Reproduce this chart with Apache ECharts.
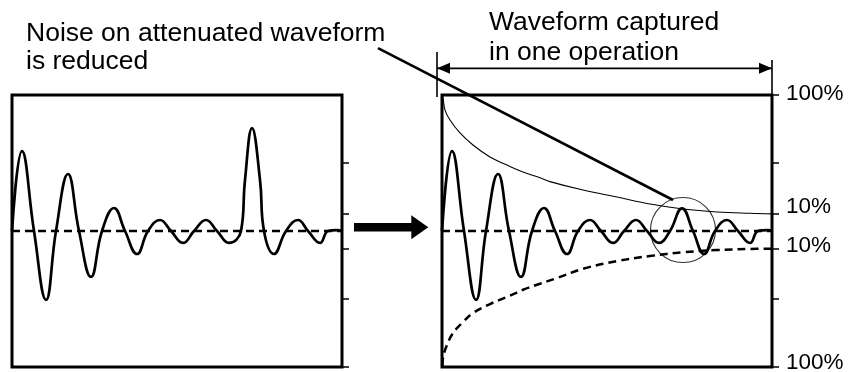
<!DOCTYPE html>
<html><head><meta charset="utf-8">
<script src="https://cdn.jsdelivr.net/npm/echarts@6/dist/echarts.min.js"></script>
<style>html,body{margin:0;padding:0;background:#fff}#c{width:853px;height:372px}</style>
</head><body><div id="c"></div>
<script>
const FONT = "'Liberation Sans', Arial, Helvetica, sans-serif";
const titleLeft = 'Noise on attenuated waveform\nis reduced';
const titleRight = 'Waveform captured\nin one operation';
const rightTickValues = [-100, -50, -13, 13, 50, 100];
const leftTickValues = [-100, -50, -13, 13, 50];
const labelValues = [-100, -13, 13, 100];
const labelTexts = { '100': '100%', '13': '10%', '-13': '10%', '-100': '100%' };
const baseline = [[0, 0], [330, 0]];
const waveLeft = [
  [0, 0], [10, 58.8], [22, 0], [34, -50.7], [44, 0], [56, 41.9], [67, 0], [79, -33.8],
  [90, 0], [102, 16.9], [113, 0], [125, -16.9], [136, 0], [148, 8.1], [159, 0], [171, -8.8],
  [182, 0], [194, 8.1], [205, 0], [217, -8.8], [229, 0], [233, 37.5], [240, 75.7], [248, 37.5],
  [252, 0], [262, -16.9], [274, 0], [286, 8.1], [296, 0], [308, -8.8], [316, 0], [325, 0.7], [330, 0]
];
const waveRight = [
  [0, 0], [10, 58.8], [22, 0], [34, -50.7], [44, 0], [56, 41.9], [67, 0], [79, -33.8],
  [90, 0], [102, 16.9], [113, 0], [125, -16.9], [136, 0], [148, 8.1], [159, 0], [171, -8.8],
  [182, 0], [194, 8.1], [205, 0], [217, -8.8], [228, 0], [240, 16.7], [251, 0], [262, -16.9],
  [273, 0], [285, 8.1], [296, 0], [308, -8.8], [316, 0], [326, 0.7], [330, 0]
];
const envelopeUpper = [
  [0, 100], [1, 97.8], [3, 88.9], [8, 81.6], [18, 72.1], [31, 63.2], [48, 54.4], [65, 48.5],
  [81, 43.4], [98, 39.2], [108, 36.3], [141, 30.1], [175, 25], [208, 19.8], [241, 16.2],
  [275, 14], [308, 13], [330, 12.6]
];
const envelopeLower = [
  [0.5, -99], [1, -93.4], [5, -83.8], [11, -75], [21, -66.9], [31, -60.3], [48, -53.7],
  [65, -48.5], [81, -43.2], [98, -38.8], [115, -34.6], [141, -27.8], [175, -22.1],
  [208, -18.4], [241, -15.7], [275, -14], [308, -13.2], [330, -13]
];
const circleMark = [[241, 0.7]];
// annotation segments: [x1, y1, x2, y2] in each panel's data units
const pointerLine = [[-64, 134.5, 231, 22.8]];
const spanSegments = [[-5, 119.6, 330, 119.6], [-5, 131.6, -5, 98.5], [330, 125.7, 330, 100]];
// arrow heads: [tipX, tipY, direction]
const spanHeads = [[-5, 119.6, -1], [330, 119.6, 1]];
const bigArrowShaft = [[342, 2.8, 410, 2.8]];
const bigArrowHead = [[416.3, 2.8, 1]];

const chart = echarts.init(document.getElementById('c'), null, { renderer: 'canvas' });
const black = '#000';
function lineS(data, grid, style, extra) {
  return Object.assign({
    type: 'line', xAxisIndex: grid, yAxisIndex: grid, data: data, symbol: 'none',
    showSymbol: false, silent: true, animation: false, clip: false,
    lineStyle: Object.assign({ color: black }, style)
  }, extra || {});
}
function segS(data, grid, width, z) {
  return {
    type: 'custom', coordinateSystem: 'cartesian2d', xAxisIndex: grid, yAxisIndex: grid,
    silent: true, animation: false, clip: false, z: z, data: data,
    renderItem: function (params, api) {
      const a = api.coord([api.value(0), api.value(1)]);
      const b = api.coord([api.value(2), api.value(3)]);
      return { type: 'line', shape: { x1: a[0], y1: a[1], x2: b[0], y2: b[1] },
        style: { stroke: black, lineWidth: width, lineCap: 'butt' } };
    }
  };
}
function headS(data, grid, len, halfW, z) {
  return {
    type: 'custom', coordinateSystem: 'cartesian2d', xAxisIndex: grid, yAxisIndex: grid,
    silent: true, animation: false, clip: false, z: z, data: data,
    renderItem: function (params, api) {
      const t = api.coord([api.value(0), api.value(1)]);
      const d = api.value(2);
      return { type: 'polygon', shape: { points: [[t[0], t[1]], [t[0] - d * len, t[1] - halfW], [t[0] - d * len, t[1] + halfW]] },
        style: { fill: black } };
    }
  };
}
const yBase = {
  type: 'value', min: -100, max: 100, position: 'right',
  axisLine: { show: false, onZero: false }, splitLine: { show: false }
};
const labelStyle = { fontSize: 22.5, fontFamily: FONT, color: black };
const gridBase = { top: 95, width: 330, height: 272, show: true, borderColor: black, borderWidth: 3,
  backgroundColor: 'transparent', containLabel: false, outerBoundsMode: 'none' };
const option = {
  animation: false,
  backgroundColor: '#fff',
  title: [
    { text: titleLeft, left: 26, top: 19.3, padding: 0,
      textStyle: { fontSize: 26.5, fontWeight: 'normal', fontFamily: FONT, color: black, lineHeight: 28 } },
    { text: titleRight, left: 489, top: 7.7, padding: 0,
      textStyle: { fontSize: 26.5, fontWeight: 'normal', fontFamily: FONT, color: black, lineHeight: 30 } }
  ],
  grid: [
    Object.assign({ left: 12 }, gridBase),
    Object.assign({ left: 442 }, gridBase)
  ],
  xAxis: [
    { gridIndex: 0, type: 'value', min: 0, max: 330, show: false },
    { gridIndex: 1, type: 'value', min: 0, max: 330, show: false }
  ],
  yAxis: [
    Object.assign({}, yBase, {
      gridIndex: 0,
      axisTick: { show: true, inside: false, length: 7, customValues: leftTickValues, lineStyle: { color: black, width: 1.5 } },
      axisLabel: { show: false }
    }),
    Object.assign({}, yBase, {
      gridIndex: 1,
      axisTick: { show: true, inside: false, length: 7, customValues: rightTickValues, lineStyle: { color: black, width: 1.5 } },
      axisLabel: {
        show: true, customValues: labelValues, margin: 14,
        formatter: function (v) {
          const key = v === 100 ? 't' : v === 13 ? 'u' : v === -13 ? 'l' : 'b';
          return '{' + key + '|' + labelTexts[String(v)] + '}';
        },
        rich: {
          t: Object.assign({ padding: [0, 0, 2, 0] }, labelStyle),
          u: Object.assign({ padding: [0, 0, 14, 0] }, labelStyle),
          l: Object.assign({ padding: [0, 0, 6, 0] }, labelStyle),
          b: Object.assign({ padding: [0, 0, 8, 0] }, labelStyle)
        }
      }
    })
  ],
  series: [
    lineS(baseline, 0, { width: 2.5, type: [8, 5] }, { z: 2 }),
    lineS(waveLeft, 0, { width: 2.7 }, { smooth: 0.45, z: 3 }),
    lineS(baseline, 1, { width: 2.5, type: [8, 5] }, { z: 2 }),
    lineS(envelopeUpper, 1, { width: 1.1 }, { smooth: 0.4, z: 2 }),
    lineS(envelopeLower, 1, { width: 2.5, type: [8, 5] }, { smooth: 0.4, z: 2 }),
    lineS(waveRight, 1, { width: 2.7 }, { smooth: 0.45, z: 3 }),
    {
      type: 'scatter', xAxisIndex: 1, yAxisIndex: 1, silent: true, animation: false, clip: false,
      data: circleMark, symbol: 'circle', symbolSize: 65,
      itemStyle: { color: 'rgba(0,0,0,0)', borderColor: black, borderWidth: 1.1 }, z: 4
    },
    segS(pointerLine, 1, 2.6, 4),
    segS(spanSegments, 1, 1.6, 4),
    headS(spanHeads, 1, 13, 5.5, 5),
    segS(bigArrowShaft, 0, 8.5, 4),
    headS(bigArrowHead, 0, 17, 12, 5)
  ]
};
chart.setOption(option);
</script>
</body></html>
